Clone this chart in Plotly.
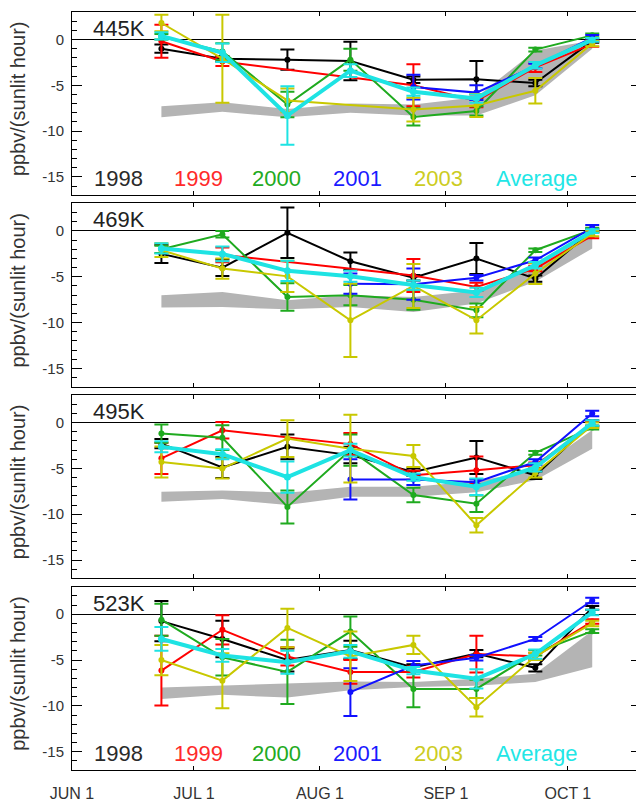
import plotly.graph_objects as go

# x positions: days since June 1
days = [22, 37, 53, 68.5, 84, 99.5, 114, 128]
month_days = [0, 30, 61, 92, 122]
month_labels = ["JUN 1", "JUL 1", "AUG 1", "SEP 1", "OCT 1"]
levels = ["445K", "469K", "495K", "523K"]
series_names = ["1998", "1999", "2000", "2001", "2003", "Average"]

# ---- 445K ----
v445_1998 = [-1.0, -2.1, -2.2, -2.35, -4.4, -4.35, -4.75, -0.15]
e445_1998 = [0.45, 0.3, 1.1, 2.1, 0.35, 2.0, 0.35, 0.2]
v445_1999 = [-0.2, -2.4, None, None, -5.0, -6.7, -3.05, -0.5]
e445_1999 = [1.8, 0.5, 0, 0, 2.3, 0.7, 0.5, 0.3]
v445_2000 = [0.3, -1.3, -7.1, -2.2, -8.45, -7.8, -1.1, 0.45]
e445_2000 = [0.3, 0.9, 1.4, 1.2, 0.95, 0.5, 0.2, 0.2]
v445_2001 = [None, None, None, None, -5.2, -5.8, -2.9, 0.2]
e445_2001 = [0, 0, 0, 0, 1.35, 0.8, 0.25, 0.3]
v445_2003 = [1.8, -2.1, -6.65, None, -7.65, -7.2, -5.6, -0.45]
e445_2003 = [0.9, 4.8, 1.3, 0, 1.3, 1.25, 1.4, 0.3]
v445_avg = [0.4, -1.45, -8.3, -3.4, -5.7, -6.45, -2.82, -0.05]
e445_avg = [0.4, 1.0, 3.2, 0.7, 0.45, 0.45, 0.35, 0.2]
band445_hi = [-7.3, -6.85, -7.6, -7.0, -7.1, -6.3, -1.2, -0.1]
band445_lo = [-8.5, -7.9, -8.5, -8.0, -8.3, -8.3, -6.1, -1.0]

# ---- 469K ----
v469_1998 = [-2.5, -4.0, -0.2, -3.3, -5.1, -3.0, -5.2, 0.05]
e469_1998 = [1.0, 0.9, 2.75, 0.95, 0.3, 1.7, 0.35, 0.2]
v469_1999 = [None, -2.6, None, None, -4.85, -6.1, -4.1, -0.5]
e469_1999 = [0, 0.8, 0, 0, 1.8, 0.45, 0.3, 0.3]
v469_2000 = [-2.0, -0.36, -7.2, -7.0, -7.5, -8.65, -2.1, 0.15]
e469_2000 = [0.4, 0.35, 1.5, 1.1, 1.1, 0.75, 0.2, 0.2]
v469_2001 = [None, None, None, -5.75, -5.8, -5.1, -3.2, 0.34]
e469_2001 = [0, 0, 0, 1.1, 1.7, 0.3, 0.3, 0.3]
v469_2003 = [-2.1, -4.1, -4.95, -9.75, -6.0, -9.73, -4.64, -0.27]
e469_2003 = [0.75, 1.1, 1.7, 4.0, 2.4, 1.45, 1.15, 0.3]
v469_avg = [-1.9, -2.5, -4.35, -4.95, -5.9, -6.7, -3.73, -0.02]
e469_avg = [0.55, 0.8, 1.1, 0.6, 0.5, 0.5, 0.35, 0.2]
band469_hi = [-7.0, -6.65, -7.55, -7.0, -7.2, -6.5, -3.8, -0.2]
band469_lo = [-8.35, -8.3, -8.55, -8.3, -8.85, -7.9, -5.55, -1.9]

# ---- 495K ----
v495_1998 = [-2.3, -4.9, -2.65, -3.55, -5.4, -3.8, -5.75, -0.05]
e495_1998 = [0.5, 1.15, 1.35, 0.9, 0.4, 1.8, 0.4, 0.3]
v495_1999 = [-3.9, -0.85, None, -2.35, -5.75, -5.2, -4.65, -0.2]
e495_1999 = [1.7, 0.9, 0, 1.2, 0.5, 1.5, 0.3, 0.3]
v495_2000 = [-1.2, -1.65, -9.2, -3.0, -7.9, -8.85, -3.3, -0.55]
e495_2000 = [1.0, 1.35, 1.8, 1.7, 0.8, 0.9, 0.2, 0.2]
v495_2001 = [None, None, None, -6.2, -6.2, -6.5, -4.3, 1.0]
e495_2001 = [0, 0, 0, 2.2, 0.6, 0.3, 0.3, 0.3]
v495_2003 = [-4.3, -5.0, -1.75, -2.85, -3.65, -11.2, -5.5, -0.3]
e495_2003 = [1.7, 1.1, 2.0, 3.7, 1.2, 0.8, 0.5, 0.3]
v495_avg = [-2.65, -3.45, -5.95, -3.0, -5.95, -7.0, -4.9, -0.05]
e495_avg = [0.6, 0.55, 1.7, 0.7, 0.4, 0.9, 0.45, 0.3]
band495_hi = [-7.55, -7.4, -7.65, -7.0, -7.0, -6.4, -5.2, -0.8]
band495_lo = [-8.65, -8.35, -9.0, -8.1, -8.1, -7.6, -6.3, -2.85]

# ---- 523K ----
v523_1998 = [-0.75, -2.7, -5.0, -3.9, -5.8, -4.3, -5.85, 0.7]
e523_1998 = [2.2, 2.0, 1.25, 1.0, 0.35, 0.4, 0.4, 0.2]
v523_1999 = [-6.15, -1.7, -4.6, -6.3, -6.3, -4.35, -4.6, -0.8]
e523_1999 = [3.8, 1.6, 1.0, 1.3, 0.6, 2.0, 0.4, 0.25]
v523_2000 = [-0.6, -4.7, -6.3, -1.9, -8.15, -8.15, -4.2, -1.85]
e523_2000 = [1.75, 2.0, 3.5, 1.65, 2.0, 1.0, 0.3, 0.2]
v523_2001 = [None, None, None, -8.5, -5.6, -4.75, -2.7, 1.5]
e523_2001 = [0, 0, 0, 2.6, 0.5, 0.3, 0.2, 0.3]
v523_2003 = [-5.0, -7.25, -1.5, -4.6, -3.35, -10.15, -4.6, -1.0]
e523_2003 = [1.65, 3.0, 2.1, 2.7, 1.0, 1.0, 0.4, 0.3]
v523_avg = [-2.7, -4.5, -5.25, -4.05, -6.15, -7.05, -4.35, 0.2]
e523_avg = [1.3, 0.7, 1.25, 0.7, 0.4, 1.05, 0.5, 0.3]
band523_hi = [-8.0, -7.8, -7.6, -7.35, -7.4, -7.05, -6.5, -1.8]
band523_lo = [-9.25, -8.8, -9.1, -8.3, -7.95, -7.8, -7.4, -5.8]

colors = ["#000000", "#ff0000", "#1faa1f", "#1010ff", "#c8c800", "#1ee3e3"]
text_colors = ["#2a2a2a", "#ff2a2a", "#22aa22", "#1a1aff", "#cccc22", "#22e6e6"]

panels = [
    ([v445_1998, v445_1999, v445_2000, v445_2001, v445_2003, v445_avg],
     [e445_1998, e445_1999, e445_2000, e445_2001, e445_2003, e445_avg],
     band445_hi, band445_lo),
    ([v469_1998, v469_1999, v469_2000, v469_2001, v469_2003, v469_avg],
     [e469_1998, e469_1999, e469_2000, e469_2001, e469_2003, e469_avg],
     band469_hi, band469_lo),
    ([v495_1998, v495_1999, v495_2000, v495_2001, v495_2003, v495_avg],
     [e495_1998, e495_1999, e495_2000, e495_2001, e495_2003, e495_avg],
     band495_hi, band495_lo),
    ([v523_1998, v523_1999, v523_2000, v523_2001, v523_2003, v523_avg],
     [e523_1998, e523_1999, e523_2000, e523_2001, e523_2003, e523_avg],
     band523_hi, band523_lo),
]

domains = [[0.7583, 1.0], [0.5055, 0.7474], [0.2528, 0.4946], [0.0, 0.2418]]
FONT = "Liberation Sans, Arial, Helvetica, sans-serif"

fig = go.Figure()
# the page body adds an 8px offset, so margins are shifted to compensate
layout = dict(
    width=636, height=802,
    margin=dict(l=64, r=3, t=4, b=40),
    paper_bgcolor="white", plot_bgcolor="white",
    showlegend=False,
    font=dict(family=FONT, color="#333333"),
)
annotations = []

for i, (vals, errs, bhi, blo) in enumerate(panels):
    n = "" if i == 0 else str(i + 1)
    xa, ya = "x" + n, "y" + n
    # gray band
    fig.add_trace(go.Scatter(
        x=days + days[::-1], y=bhi + blo[::-1], xaxis=xa, yaxis=ya,
        mode="lines", fill="toself", fillcolor="#b4b4b4",
        line=dict(width=0, color="#b4b4b4"), hoverinfo="skip"))
    for k, name in enumerate(series_names):
        is_avg = name == "Average"
        fig.add_trace(go.Scatter(
            x=days, y=vals[k], xaxis=xa, yaxis=ya, name=name,
            mode="lines+markers", connectgaps=True,
            line=dict(color=colors[k], width=4 if is_avg else 2),
            marker=dict(color=colors[k], size=7 if is_avg else 6),
            error_y=dict(type="data", array=errs[k], visible=True,
                         color=colors[k], thickness=2, width=7),
        ))
    layout["xaxis" + n] = dict(
        domain=[0, 1], anchor=ya, range=[0, 140],
        tickmode="array", tickvals=month_days, ticktext=month_labels,
        showticklabels=(i == 3), ticks="inside", ticklen=4, tickwidth=1,
        tickcolor="black", showline=True, linecolor="black", linewidth=1,
        mirror="ticks", showgrid=False, zeroline=False,
        tickfont=dict(size=16, color="#333333", family=FONT),
        ticklabelstandoff=9, automargin=False,
    )
    layout["yaxis" + n] = dict(
        domain=domains[i], anchor=xa, range=[-17, 3],
        tickmode="array", tickvals=[0, -5, -10, -15],
        ticktext=["0", "-5", "-10", "-15"],
        ticks="inside", ticklen=10, tickwidth=1, tickcolor="black",
        minor=dict(dtick=1, tick0=0, ticks="inside", ticklen=5,
                   tickcolor="black", tickwidth=1, showgrid=False),
        showline=True, linecolor="black", linewidth=1, mirror="allticks",
        showgrid=False, zeroline=True, zerolinecolor="black", zerolinewidth=1,
        tickfont=dict(size=15, color="#333333", family=FONT),
        ticklabelstandoff=4, automargin=False,
    )
    # y axis title
    annotations.append(dict(
        text="ppbv/(sunlit hour)", xref="paper", yref=ya + " domain",
        x=-0.095, y=0.53, xanchor="center", yanchor="middle",
        textangle=-90, showarrow=False,
        font=dict(size=20, color="#333333", family=FONT)))
    # level label
    annotations.append(dict(
        text=levels[i], xref=xa, yref=ya, x=4.6, y=1.2,
        xanchor="left", yanchor="middle", showarrow=False,
        font=dict(size=22, color="#222222", family=FONT)))
    # year legend text in first and last panel
    if i in (0, 3):
        legend_x = [4.8, 24.5, 43.8, 63.7, 83.7, 103.9]
        for k, name in enumerate(series_names):
            annotations.append(dict(
                text=name, xref=xa, yref=ya, x=legend_x[k], y=-15.2,
                xanchor="left", yanchor="middle", showarrow=False,
                font=dict(size=22, color=text_colors[k], family=FONT)))

layout["annotations"] = annotations
fig.update_layout(**layout)
fig.write_html("out.html")
